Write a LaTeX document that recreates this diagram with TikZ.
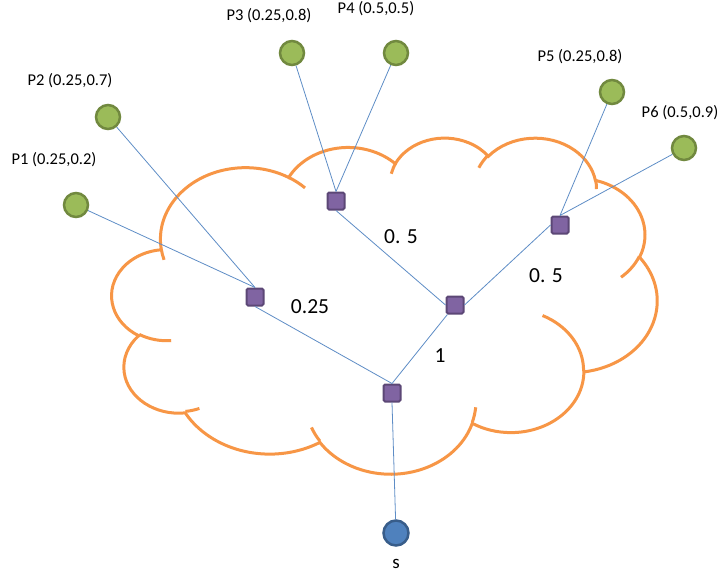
\documentclass[tikz,border=0pt]{standalone}
\usepackage{fontspec}
\setmainfont{Carlito}
\definecolor{peerfill}{HTML}{9BBB59}
\definecolor{peerline}{HTML}{71893F}
\definecolor{hubfill}{HTML}{8064A2}
\definecolor{hubline}{HTML}{5C4776}
\definecolor{srcfill}{HTML}{4F81BD}
\definecolor{srcline}{HTML}{385D8A}
\definecolor{cloudline}{HTML}{F79646}
\definecolor{linkline}{HTML}{5E8DC6}
\newcommand{\cloudarc}[4]{arc[start angle={atan2(#1*sin(#3),#2*cos(#3))},
  delta angle={mod(atan2(#1*sin(#3+#4),#2*cos(#3+#4))-atan2(#1*sin(#3),#2*cos(#3))+720,360)},
  x radius=#1, y radius=#2]}

\begin{document}
\begin{tikzpicture}[x=1pt, y=-1pt,
  peer/.style={circle, draw=peerline, fill=peerfill, line width=2.5pt, minimum size=24pt, inner sep=0pt},
  hub/.style={rectangle, rounded corners=1.5pt, draw=hubline, fill=hubfill, line width=2pt, minimum size=17pt, inner sep=0pt},
  source/.style={circle, draw=srcline, fill=srcfill, line width=2.5pt, minimum size=25pt, inner sep=0pt},
  link/.style={draw=linkline, line width=0.8pt},
  cloudedge/.style={draw=cloudline, line width=3pt},
  peerlabel/.style={font=\fontsize{16.5}{20}\selectfont},
  weight/.style={font=\fontsize{21.5}{26}\selectfont}]
\useasboundingbox (0,0) rectangle (720,576);
% Cloud
\begin{scope}[x=1.26157pt, y=-0.77778pt, shift={(112pt,-137pt)}]
\draw[cloudedge, fill=white] (39.00,143.70)
  \cloudarc{67.53}{91.90}{-190.4875}{123.7805}
  \cloudarc{53.33}{72.67}{-144.1024}{89.9452}
  \cloudarc{43.65}{59.45}{-145.8079}{99.7230}
  \cloudarc{48.57}{65.95}{-130.9861}{117.2417}
  \cloudarc{53.33}{72.73}{-78.7089}{109.0269}
  \cloudarc{67.75}{92.20}{-46.2673}{130.2690}
  \cloudarc{57.85}{78.67}{0.6250}{114.0333}
  \cloudarc{67.52}{92.15}{22.4516}{115.1726}
  \cloudarc{77.20}{105.43}{66.2426}{75.7110}
  \cloudarc{43.60}{59.18}{-274.9421}{146.7356}
  \cloudarc{43.45}{59.45}{-246.8285}{152.5189} -- cycle;
\draw[cloudedge]
  (46.93,261.77) \cloudarc{43.45}{59.45}{86.7420}{26.4295}
  (69.28,348.99) \cloudarc{43.60}{59.18}{73.6105}{11.4475}
  (164.78,390.90) \cloudarc{67.52}{92.15}{137.6242}{14.0811}
  (288.27,347.51) \cloudarc{67.52}{92.15}{6.4533}{15.9984}
  (341.29,229.54) \cloudarc{57.85}{78.67}{-70.2924}{70.9174}
  (417.98,153.54) \cloudarc{53.33}{72.73}{30.3180}{27.7515}
  (383.24,54.26) \cloudarc{48.57}{65.95}{-13.7443}{14.8589}
  (290.78,39.52) \cloudarc{48.57}{65.95}{-149.1815}{18.1954}
  (221.41,47.20) \cloudarc{43.65}{59.45}{-163.4943}{17.6864}
  (140.00,51.92) \cloudarc{67.53}{91.90}{-66.7070}{12.3194}
  (41.27,157.89) \cloudarc{67.53}{91.90}{157.6544}{11.8582};
\end{scope}
% Peers
\node[peer] (peer1) at (76,205) {};
\node[peer] (peer2) at (108,117) {};
\node[peer] (peer3) at (292,53) {};
\node[peer] (peer4) at (396,53) {};
\node[peer] (peer5) at (612,92) {};
\node[peer] (peer6) at (684,148) {};
\node[peerlabel] (label1) at (54,160) {P1 (0.25,0.2)};
\node[peerlabel] (label2) at (70,81) {P2 (0.25,0.7)};
\node[peerlabel] (label3) at (269,16) {P3 (0.25,0.8)};
\node[peerlabel] (label4) at (376,9) {P4 (0.5,0.5)};
\node[peerlabel] (label5) at (580,57) {P5 (0.25,0.8)};
\node[peerlabel] (label6) at (680,113) {P6 (0.5,0.9)};
% Routers
\node[hub] (hub1) at (255,297) {};
\node[hub] (hub2) at (336,201) {};
\node[hub] (hub3) at (455,305) {};
\node[hub] (hub4) at (560,225) {};
\node[hub] (hub5) at (392,393) {};
\node[source] (src) at (396,533) {};
\node[font=\fontsize{19}{23}\selectfont] (srclabel) at (396,564) {s};
% Links
\draw[link] (peer1) -- (hub1.north);
\draw[link] (peer2) -- (hub1.north);
\draw[link] (peer3) -- (hub2.north);
\draw[link] (peer4) -- (hub2.north);
\draw[link] (peer5) -- (hub4.north);
\draw[link] (peer6) -- (hub4.north);
\draw[link] (hub1.south) -- (hub5.north);
\draw[link] (hub2.south) -- (hub3.west);
\draw[link] (hub4.west) -- (hub3.east);
\draw[link] (hub3) -- (hub5.north);
\draw[link] (hub5.south) -- (src);
\node[weight] (w1) at (310,307) {0.25};
\node[weight] (w2) at (401,237) {0. 5};
\node[weight] (w3) at (546,276) {0. 5};
\node[weight] (w4) at (440,356) {1};
\end{tikzpicture}
\end{document}
